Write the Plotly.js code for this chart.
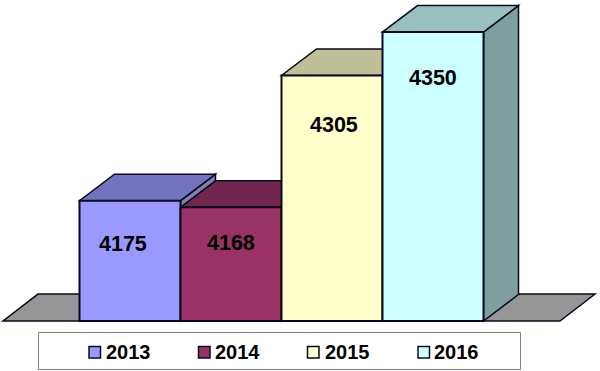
<!DOCTYPE html>
<html>
<head>
<meta charset="utf-8">
<script src="https://cdn.plot.ly/plotly-3.0.1.min.js"></script>
<style>html,body{margin:0;padding:0;background:#fff}#chart{width:600px;height:371px}</style>
</head>
<body>
<div id="chart"></div>
<script>
var years = ['2013', '2014', '2015', '2016'];
var values = [4175, 4168, 4305, 4350];
var frontColors = ['#9999FF', '#993366', '#FFFFCC', '#CCFFFF'];
var topColors = ['#7373BF', '#73264D', '#BFBF99', '#99BFBF'];
var sideColors = ['#7F7FB0', '#602040', '#A0A080', '#7F9F9F'];
var labelDrop = [43, 36, 50, 46];
var labelShift = [-7.5, 0, 2, 0];
var legendSwatchLeft = [89, 198.5, 307.5, 418];
var legendTextLeft = [105, 214, 324, 433];

var W = 600, H = 371;
var pxPerCat = 101, pxPerVal = 0.963;
var baseVal = 4050, baseY = 321, firstLeft = 79.5;
var depthX = 35 / pxPerCat, depthV = 26.5 / pxPerVal;
var x0 = -0.5 - firstLeft / pxPerCat;
var xRange = [x0, x0 + W / pxPerCat];
var yLow = baseVal - (H - baseY) / pxPerVal;
var yRange = [yLow, yLow + H / pxPerVal];
var ink = '#0A0A1E';
var fontFamily = '"Liberation Sans", Arial, sans-serif';

function poly(pts, fill, width) {
  var d = pts.map(function (p, i) { return (i ? 'L' : 'M') + p[0] + ',' + p[1]; }).join(' ') + ' Z';
  return {type: 'path', xref: 'x', yref: 'y', layer: 'below', path: d,
          fillcolor: fill, line: {color: ink, width: width}};
}
function xAtPx(px) { return x0 + px / pxPerCat; }

var shapes = [];
// floor
shapes.push(poly([[xAtPx(3), baseVal], [xAtPx(560), baseVal],
                  [xAtPx(595), baseVal + 28], [xAtPx(38), baseVal + 28]], '#969696', 1.5));
// depth faces, left to right so that each top covers the lower part of the previous side
for (var i = 0; i < years.length; i++) {
  var l = i - 0.5, r = i + 0.5, t = values[i];
  shapes.push(poly([[r, baseVal], [r, t], [r + depthX, t + depthV], [r + depthX, baseVal + depthV]], sideColors[i], 1.5));
  shapes.push(poly([[l, t], [r, t], [r + depthX, t + depthV], [l + depthX, t + depthV]], topColors[i], 1.5));
}
// legend frame
shapes.push({type: 'rect', xref: 'paper', yref: 'paper', layer: 'below',
  x0: 38.5 / W, x1: 520.5 / W, y0: 1 - 369.5 / H, y1: 1 - 332.5 / H,
  fillcolor: '#FFFFFF', line: {color: '#808080', width: 1}});
// legend swatches
years.forEach(function (y, i) {
  shapes.push({type: 'rect', xref: 'paper', yref: 'paper', layer: 'above',
    x0: legendSwatchLeft[i] / W, x1: (legendSwatchLeft[i] + 11.5) / W,
    y0: 1 - 358 / H, y1: 1 - 346.5 / H,
    fillcolor: frontColors[i], line: {color: ink, width: 1.5}});
});

var traces = years.map(function (y, i) {
  return {type: 'bar', name: y, x: [i], y: [values[i] - baseVal], base: [baseVal], width: [1],
          marker: {color: frontColors[i], line: {color: ink, width: 2}},
          hoverinfo: 'skip', showlegend: false};
});

var annotations = years.map(function (y, i) {
  return {x: i + labelShift[i] / pxPerCat, y: values[i] - labelDrop[i] / pxPerVal,
          xref: 'x', yref: 'y', text: String(values[i]), showarrow: false,
          xanchor: 'center', yanchor: 'middle',
          font: {family: fontFamily, size: 21.5, color: '#000000', weight: 'bold'}};
}).concat(years.map(function (y, i) {
  return {x: legendTextLeft[i] / W, y: 1 - 352 / H, xref: 'paper', yref: 'paper',
          text: y, showarrow: false, xanchor: 'left', yanchor: 'middle', xshift: -1,
          font: {family: fontFamily, size: 20, color: '#000000', weight: 'bold'}};
}));

var layout = {
  width: W, height: H,
  margin: {l: 0, r: 0, t: 0, b: 0, autoexpand: false},
  paper_bgcolor: '#FFFFFF', plot_bgcolor: 'rgba(0,0,0,0)',
  barmode: 'overlay',
  xaxis: {range: xRange, visible: false, fixedrange: true},
  yaxis: {range: yRange, visible: false, fixedrange: true},
  shapes: shapes,
  annotations: annotations,
  showlegend: false
};
Plotly.newPlot('chart', traces, layout, {displayModeBar: false, staticPlot: true});
</script>
</body>
</html>
